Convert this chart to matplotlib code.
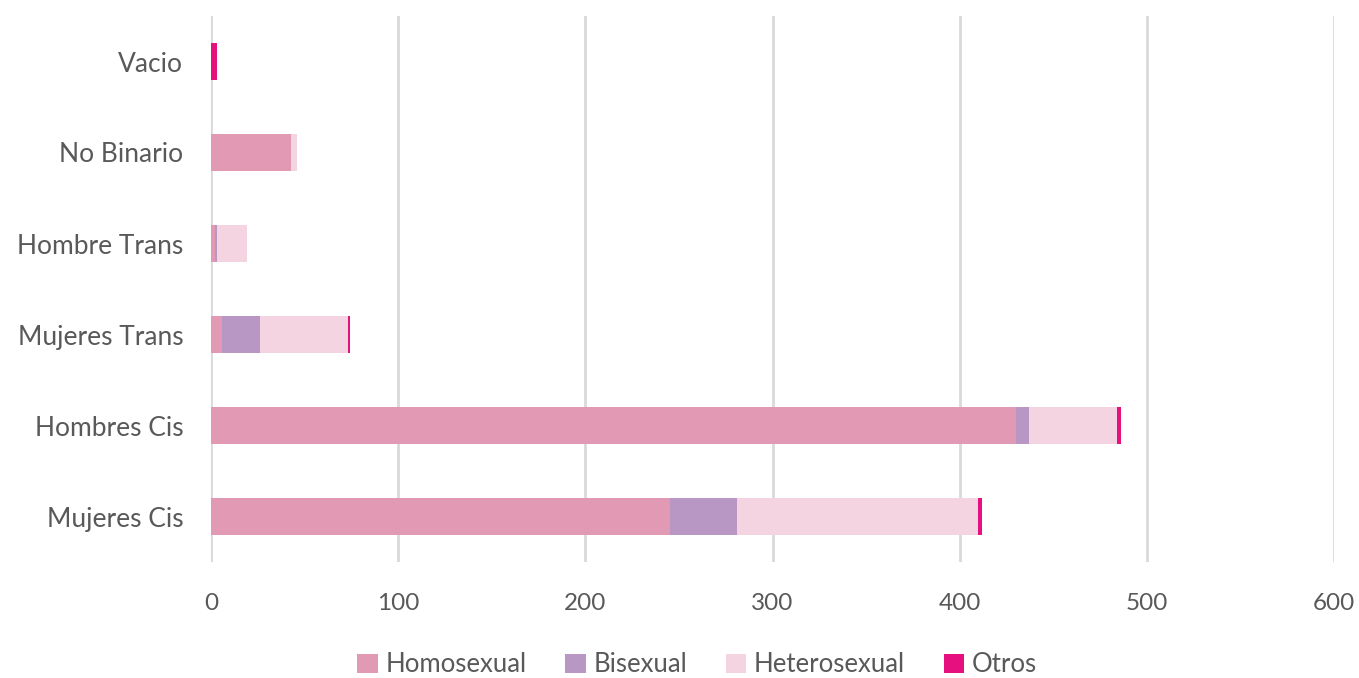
import matplotlib
matplotlib.use('Agg')
import matplotlib.pyplot as plt
import numpy as np

categories = ['Mujeres Cis', 'Hombres Cis', 'Mujeres Trans', 'Hombre Trans', 'No Binario', 'Vacio']
homosexual = [245, 430, 6, 2, 43, 0]
bisexual = [36, 7, 20, 1, 0, 0]
heterosexual = [129, 47, 47, 16, 3, 0]
otros = [2, 2, 1, 0, 0, 3]

series = [
    ('Homosexual', homosexual, '#E29AB4'),
    ('Bisexual', bisexual, '#B897C5'),
    ('Heterosexual', heterosexual, '#F4D4E1'),
    ('Otros', otros, '#E6117F'),
]

plt.rcParams['font.family'] = ['Lato', 'DejaVu Sans']
text_color = '#595959'

fig = plt.figure(figsize=(13.59, 6.78), dpi=100)
ax = fig.add_axes([211 / 1359, 1 - 562 / 678, (1334 - 211) / 1359, (562 - 16) / 678])

y = np.arange(len(categories))
left = np.zeros(len(categories))
for name, vals, color in series:
    vals = np.array(vals, dtype=float)
    ax.barh(y, vals, left=left, height=0.4, color=color, label=name, zorder=3)
    left += vals

ax.set_xlim(0, 600)
ax.set_ylim(-0.5, len(categories) - 0.5)
ax.set_xticks(range(0, 601, 100))
ax.set_yticks(y)
ax.set_yticklabels(categories)
ax.xaxis.grid(True, color='#D9D9D9', linewidth=2, zorder=0)
ax.set_axisbelow(True)
for s in ax.spines.values():
    s.set_visible(False)
ax.tick_params(axis='both', length=0, labelcolor=text_color)
ax.tick_params(axis='x', pad=22, labelsize=17.5)
ax.tick_params(axis='y', pad=20, labelsize=19)

fig.legend(loc='center', bbox_to_anchor=(0.513, 1 - 665 / 678), ncol=4, frameon=False,
           fontsize=18.5, labelcolor=text_color, handlelength=0.8, handleheight=0.8,
           handletextpad=0.3, columnspacing=1.5)

fig.savefig('out.png', dpi=100)
